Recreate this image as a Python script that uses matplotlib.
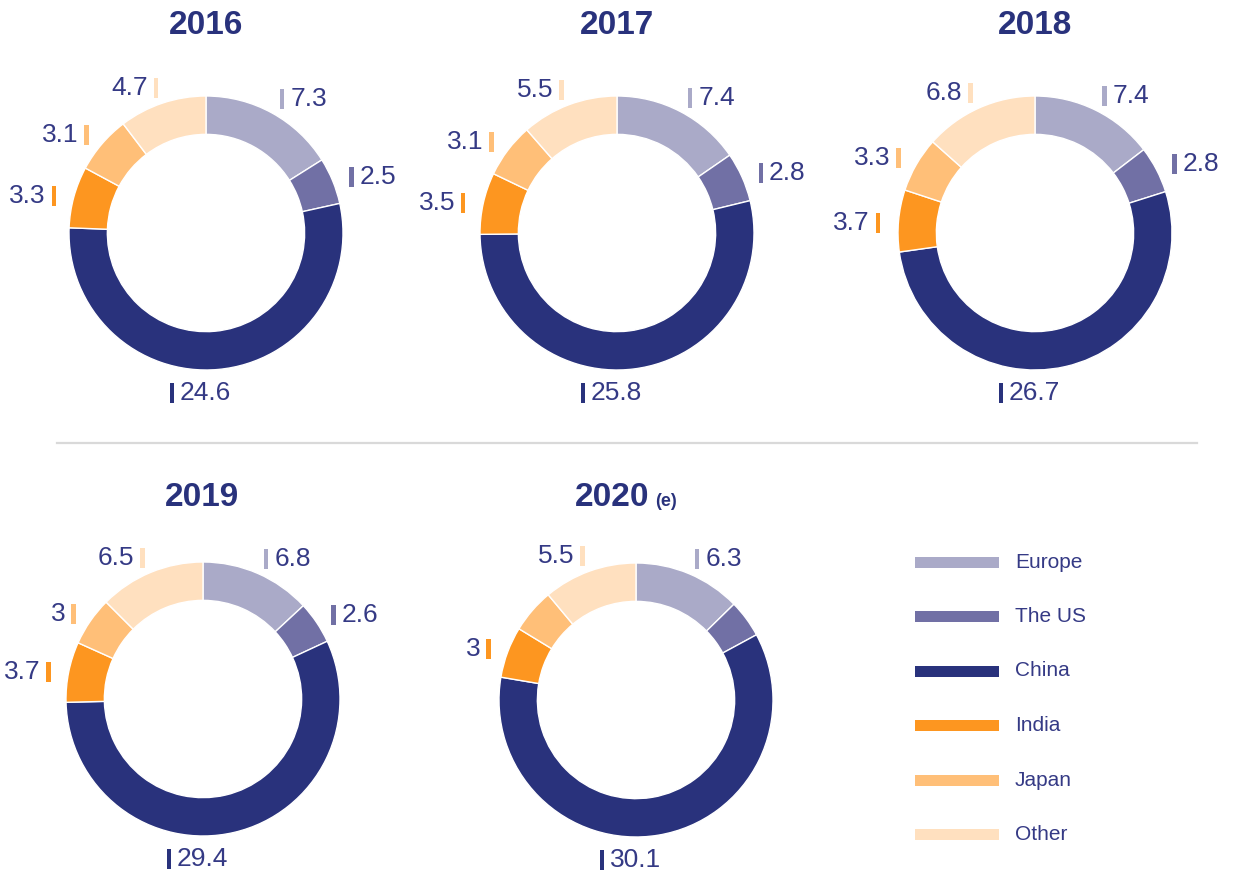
import matplotlib
matplotlib.use("Agg")
import matplotlib.pyplot as plt
import numpy as np
from matplotlib.patches import Rectangle
from matplotlib.lines import Line2D

plt.rcParams["font.family"] = ["Liberation Sans", "DejaVu Sans"]

# data
regions = ["Europe", "The US", "China", "India", "Japan", "Other"]
colors = ["#aaaac8", "#7170a5", "#29327c", "#fd9620", "#ffbf78", "#ffe0bf"]
years = ["2016", "2017", "2018", "2019", "2020"]
v2016 = [7.3, 2.5, 24.6, 3.3, 3.1, 4.7]
v2017 = [7.4, 2.8, 25.8, 3.5, 3.1, 5.5]
v2018 = [7.4, 2.8, 26.7, 3.7, 3.3, 6.8]
v2019 = [6.8, 2.6, 29.4, 3.7, 3.0, 6.5]
v2020 = [6.3, 2.2, 30.1, 3.0, 2.6, 5.5]
shown2020 = [True, False, True, True, False, True]
values = [v2016, v2017, v2018, v2019, v2020]
shown = [[True] * 6] * 4 + [shown2020]

W, H = 1239, 872
NAVY = "#29327c"
LABEL = "#353a85"
R_PX = 137.0
centers = [(206, 233), (617, 233), (1035, 233), (203, 699), (636, 700)]

fig = plt.figure(figsize=(W / 100, H / 100), dpi=100)


def fmt(v):
    return f"{v:g}"


bw, bh = 4.5 / R_PX, 20 / R_PX
half = 200
L = half / R_PX
for (cx, cy), vals, show in zip(centers, values, shown):
    ax = fig.add_axes([(cx - half) / W, 1 - (cy + half) / H, 2 * half / W, 2 * half / H])
    ax.pie(vals, colors=colors, radius=1.0, startangle=90, counterclock=False,
           wedgeprops=dict(width=0.28, edgecolor="white", linewidth=1))
    # pie() resets the limits, so fix them afterwards
    ax.set_xlim(-L, L); ax.set_ylim(-L, L)
    ax.axis("off")
    tot = sum(vals)
    cum = np.cumsum([0] + vals)
    for i, v in enumerate(vals):
        if not show[i]:
            continue
        if regions[i] == "China":
            bx, by = -0.25, -1.17
            ax.add_patch(Rectangle((bx - bw / 2, by - bh / 2), bw, bh, color=colors[i], lw=0))
            ax.text(bx + 0.06, by, fmt(v), ha="left", va="center", fontsize=19, color=LABEL)
            continue
        ang = np.deg2rad((cum[i] + v / 2) / tot * 360)
        r = 1.15
        bx, by = r * np.sin(ang), r * np.cos(ang) - 0.03
        ax.add_patch(Rectangle((bx - bw / 2, by - bh / 2), bw, bh, color=colors[i], lw=0))
        if bx > 0:
            ax.text(bx + 0.06, by, fmt(v), ha="left", va="center", fontsize=19, color=LABEL)
        else:
            ax.text(bx - 0.06, by, fmt(v), ha="right", va="center", fontsize=19, color=LABEL)

# titles
title_pos = [(206, 25), (617, 25), (1035, 25), (202, 497)]
for (tx, ty), yr in zip(title_pos, years[:4]):
    fig.text(tx / W, 1 - ty / H, yr, ha="center", va="center", fontsize=24,
             fontweight="bold", color=NAVY)
fig.text(649 / W, 1 - 497 / H, years[4], ha="right", va="center", fontsize=24,
         fontweight="bold", color=NAVY)
fig.text(655 / W, 1 - 501 / H, "(e)", ha="left", va="center", fontsize=13,
         fontweight="bold", color=NAVY)

# separator
fig.add_artist(Line2D([57 / W, 1197 / W], [1 - 443 / H, 1 - 443 / H],
                      color="#d9d9d9", lw=1.6))

# legend
leg_y = [562, 616, 671, 725, 780, 834]
for name, col, ly in zip(regions, colors, leg_y):
    fig.add_artist(Rectangle((915 / W, 1 - (ly + 5.5) / H), 84 / W, 11 / H,
                             color=col, lw=0, transform=fig.transFigure))
    fig.text(1015 / W, 1 - ly / H, name, ha="left", va="center", fontsize=15, color=LABEL)

fig.savefig("out.png", dpi=100)
